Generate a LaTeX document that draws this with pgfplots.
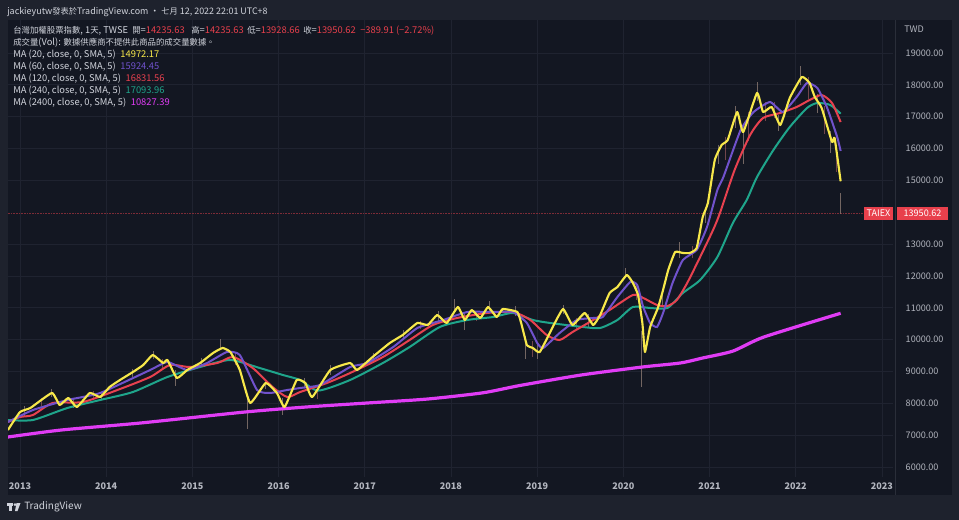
\documentclass[border=0pt]{standalone}
\usepackage{fontspec}
\setmainfont{Noto Sans CJK TC}
\usepackage{pgfplots}
\pgfplotsset{compat=1.18}

\definecolor{outerbg}{HTML}{1E222D}
\definecolor{panelbg}{HTML}{131722}
\definecolor{gridc}{HTML}{1F2330}
\definecolor{sepc}{HTML}{2A2E39}
\definecolor{txt}{HTML}{B2B5BE}
\definecolor{hdr}{HTML}{D1D4DC}
\definecolor{ma20}{HTML}{F7E84A}
\definecolor{ma60}{HTML}{7052CC}
\definecolor{ma120}{HTML}{E8414F}
\definecolor{ma240}{HTML}{1FA58B}
\definecolor{ma2400}{HTML}{E03CF5}
\definecolor{down}{HTML}{E8404C}
\definecolor{wick}{HTML}{8C7A72}
\definecolor{wickr}{HTML}{9A5A5E}

\newcommand\hfont{\fontsize{7}{8}\selectfont}
\newcommand\tfont{\fontsize{6.8}{8}\selectfont}
\newcommand\cj[1]{{\fontsize{6.3}{8}\selectfont #1}}
\newcommand\cjh[1]{{\fontsize{6.2}{8}\selectfont #1}}

\begin{document}
\begin{tikzpicture}[x=0.75pt,y=-0.75pt]
\useasboundingbox (0,0) rectangle (959,520);
\fill[outerbg] (0,0) rectangle (959,520);
\fill[panelbg] (8,20) rectangle (952,495);

\begin{axis}[
    at={(6pt,-15pt)}, anchor=north west,
    scale only axis, width=663.75pt, height=342.75pt,
    xmin=2012.8608, xmax=2023.1276,
    ymin=5686, ymax=20036,
    axis line style={draw=none},
    major tick length=0pt,
    xtick={2013,2014,...,2023},
    ytick={6000,7000,8000,9000,10000,11000,12000,13000,15000,16000,17000,18000,19000},
    scaled y ticks=false, scaled x ticks=false,
    grid=major,
    major grid style={gridc, line width=0.6pt},
    yticklabel pos=right,
    /pgf/number format/assume math mode=true,
    yticklabel style={font=\tfont, text=txt, anchor=west, xshift=6pt,
        /pgf/number format/fixed, /pgf/number format/fixed zerofill,
        /pgf/number format/precision=2, /pgf/number format/1000 sep={}},
    xticklabel style={font=\tfont\bfseries, text=txt, yshift=-1pt,
        /pgf/number format/1000 sep={}},
    clip=true,
]
% last price line
\addplot[down!50!panelbg, line width=0.7pt, dash pattern=on 1.2pt off 0.8pt]
    coordinates {(2012.86,13950.62) (2023.13,13950.62)};

% candle wicks (faint)
\addplot[draw=none, mark=none,
    error bars/.cd, y dir=both, y explicit, error mark=none,
    error bar style={draw=wick, opacity=0.8, line width=0.7pt}]
coordinates {
(2013.05,7750) +- (0,150)
(2013.37,8330) +- (0,120)
(2013.62,8000) +- (0,150)
(2013.95,8250) +- (0,120)
(2014.30,8950) +- (0,120)
(2014.55,9520) +- (0,120)
(2014.80,8800) +- (0,250)
(2015.10,9300) +- (0,120)
(2015.33,9850) +- (0,170)
(2015.64,7750) +- (0,550)
(2015.85,8600) +- (0,150)
(2016.05,7900) +- (0,270)
(2016.30,8650) +- (0,150)
(2016.60,9050) +- (0,150)
(2017.10,9450) +- (0,120)
(2017.45,10150) +- (0,150)
(2017.85,10750) +- (0,150)
(2018.04,11100) +- (0,170)
(2018.16,10550) +- (0,250)
(2018.45,11050) +- (0,150)
(2018.75,10900) +- (0,150)
(2018.86,9750) +- (0,350)
(2019.00,9650) +- (0,250)
(2019.30,10950) +- (0,150)
(2019.60,10600) +- (0,200)
(2020.02,12100) +- (0,150)
(2020.21,9400) +- (0,880)
(2020.45,11300) +- (0,200)
(2020.65,12800) +- (0,250)
(2020.95,13900) +- (0,250)
(2021.10,15800) +- (0,300)
(2021.30,17000) +- (0,350)
(2021.39,16100) +- (0,600)
(2021.55,17800) +- (0,300)
(2021.80,16800) +- (0,250)
(2022.05,18300) +- (0,300)
(2022.25,17400) +- (0,300)
(2022.40,16200) +- (0,350)
(2022.52,14270) +- (0,330)
};
\addplot[draw=none, mark=none,
    error bars/.cd, y dir=both, y explicit, error mark=none,
    error bar style={draw=wickr, opacity=0.7, line width=0.7pt}]
coordinates {
(2013.25,8050) +- (0,120)
(2013.85,8250) +- (0,130)
(2014.65,9250) +- (0,150)
(2015.50,9400) +- (0,200)
(2016.45,8300) +- (0,150)
(2017.65,10450) +- (0,130)
(2018.30,10750) +- (0,150)
(2018.95,9700) +- (0,250)
(2019.45,10500) +- (0,180)
(2020.15,11500) +- (0,250)
(2020.80,12750) +- (0,200)
(2021.18,16000) +- (0,350)
(2021.45,16700) +- (0,450)
(2021.65,17150) +- (0,300)
(2021.75,17200) +- (0,250)
(2022.15,17900) +- (0,350)
(2022.33,16900) +- (0,450)
(2022.47,15700) +- (0,450)
};

% MA 2400
\addplot[ma2400, line width=2.4pt, smooth, tension=0.4] table {
t v
2012.86 6942
2013.48 7162
2014.40 7382
2015.61 7727
2016.32 7884
2017.03 8010
2017.73 8135
2018.37 8330
2018.80 8560
2019.51 8889
2020.22 9140
2020.66 9266
2020.92 9423
2021.27 9640
2021.63 10082
2022.52 10827
};

% MA 240
\addplot[ma240, line width=1.5pt, smooth, tension=0.4] table {
t v
2012.86 7476
2013.15 7476
2013.55 7853
2013.93 8104
2014.31 8355
2014.71 8826
2015.09 9140
2015.44 9360
2015.78 9109
2016.05 8889
2016.25 8732
2016.46 8400
2016.83 8732
2017.21 9266
2017.52 9768
2017.87 10396
2018.19 10616
2018.49 10710
2018.72 10836
2018.95 10616
2019.15 10522
2019.53 10396
2019.73 10365
2019.93 10616
2020.11 11024
2020.31 10993
2020.51 10993
2020.69 11464
2020.89 11872
2021.09 12594
2021.27 13662
2021.43 14384
2021.55 15106
2021.74 15954
2021.93 16676
2022.13 17273
2022.25 17430
2022.40 17367
2022.52 17094
};

% MA 120
\addplot[ma120, line width=1.5pt, smooth, tension=0.4] table {
t v
2012.86 7413
2013.00 7570
2013.15 7633
2013.38 8010
2013.73 8041
2014.13 8418
2014.51 8826
2014.74 9203
2014.97 9140
2015.29 9266
2015.47 9454
2015.70 9109
2015.93 8512
2016.10 8198
2016.25 8355
2016.56 8638
2016.83 8952
2017.21 9454
2017.52 9988
2017.79 10459
2018.07 10679
2018.42 10836
2018.72 10867
2018.92 10616
2019.11 10145
2019.26 9988
2019.41 10239
2019.61 10553
2019.84 10930
2020.11 11401
2020.23 11307
2020.39 11087
2020.51 11055
2020.62 11244
2020.74 11778
2020.89 12594
2021.04 13442
2021.12 13976
2021.29 15326
2021.47 16425
2021.62 16959
2021.82 17116
2022.01 17304
2022.16 17524
2022.30 17681
2022.42 17430
2022.52 16832
};

% MA 60
\addplot[ma60, line width=1.5pt, smooth, tension=0.3] table {
t v
2012.86 7413
2013.15 7790
2013.55 8104
2013.93 8324
2014.51 9046
2014.71 9297
2014.94 9046
2015.17 9266
2015.40 9611
2015.55 9517
2015.75 8418
2015.90 8324
2016.10 8418
2016.25 8481
2016.48 8575
2016.83 9140
2017.03 9266
2017.33 9768
2017.61 10365
2017.91 10616
2018.19 10867
2018.49 10867
2018.72 10867
2018.88 10522
2019.00 9894
2019.07 9737
2019.26 10208
2019.46 10616
2019.65 10679
2019.76 10710
2019.93 11338
2020.08 11809
2020.16 11715
2020.23 11024
2020.31 10522
2020.39 10396
2020.46 10836
2020.57 11778
2020.69 12500
2020.85 12814
2020.97 13536
2021.09 14698
2021.16 15106
2021.36 16582
2021.51 17147
2021.70 17461
2021.85 17147
2022.01 17618
2022.13 18058
2022.25 17901
2022.36 17304
2022.48 16362
2022.52 15924
};

% MA 20
\addplot[ma20, line width=1.6pt, line join=round, smooth, tension=0.25] table {
t v
2012.86 7162
2013.00 7727
2013.12 7853
2013.37 8324
2013.46 7947
2013.56 8167
2013.66 7884
2013.81 8324
2013.93 8198
2014.04 8512
2014.16 8732
2014.31 8983
2014.43 9203
2014.54 9517
2014.66 9266
2014.71 9360
2014.82 8795
2014.94 9046
2015.09 9266
2015.24 9580
2015.35 9737
2015.44 9611
2015.55 9046
2015.67 8010
2015.85 8638
2015.98 8324
2016.07 7884
2016.21 8732
2016.31 8638
2016.39 8198
2016.60 9046
2016.83 9266
2016.91 9046
2017.09 9454
2017.29 9894
2017.44 10145
2017.61 10522
2017.73 10459
2017.84 10773
2017.95 10522
2018.08 11024
2018.16 10616
2018.24 10930
2018.34 10679
2018.43 11024
2018.53 10710
2018.60 10961
2018.77 10867
2018.82 10459
2018.88 9831
2018.95 9737
2019.03 9611
2019.18 10396
2019.30 10961
2019.41 10459
2019.55 10836
2019.65 10459
2019.73 10773
2019.84 11464
2019.93 11652
2020.04 12029
2020.11 11778
2020.17 11401
2020.22 10522
2020.25 9611
2020.31 10396
2020.40 10993
2020.46 11558
2020.52 12186
2020.60 12751
2020.69 12720
2020.77 12720
2020.85 12877
2020.92 13850
2020.98 14290
2021.06 15640
2021.14 16111
2021.21 16268
2021.32 17147
2021.39 16519
2021.55 17744
2021.62 17147
2021.72 17304
2021.82 16739
2021.93 17587
2022.07 18246
2022.16 18058
2022.22 17618
2022.30 17273
2022.42 16205
2022.45 16331
2022.52 14972
};
\end{axis}

% panel separators
\draw[sepc, line width=0.6pt] (895,20) -- (895,495);

% header
\node[anchor=base west, inner sep=0pt, font=\fontsize{6.7}{9}\selectfont, text=hdr] at (7,15)
    {jackieyutw\cjh{發表於}TradingView.com\ ·\ \cjh{七月} 12, 2022 22:01 UTC+8};

\begin{scope}[every node/.style={anchor=base west, inner sep=0pt, font=\hfont, text=hdr}]
\node at (13,34) {\cj{台灣加權股票指數}, 1\cj{天}, TWSE};
\node at (132,34) {\cj{開}=\textcolor{down}{14235.63}};
\node at (191,34) {\cj{高}=\textcolor{down}{14235.63}};
\node at (247,34) {\cj{低}=\textcolor{down}{13928.66}};
\node at (303,34) {\cj{收}=\textcolor{down}{13950.62}};
\node at (360,34) {\textcolor{down}{−389.91 (−2.72\%)}};
\node at (13,46) {\cj{成交量}(Vol): \cj{數據供應商不提供此商品的成交量數據。}};
\node at (13,58) {MA (20, close, 0, SMA, 5)\enspace\textcolor{ma20}{14972.17}};
\node at (13,70) {MA (60, close, 0, SMA, 5)\enspace\textcolor{ma60}{15924.45}};
\node at (13,82) {MA (120, close, 0, SMA, 5)\enspace\textcolor{ma120}{16831.56}};
\node at (13,94) {MA (240, close, 0, SMA, 5)\enspace\textcolor{ma240}{17093.96}};
\node at (13,106) {MA (2400, close, 0, SMA, 5)\enspace\textcolor{ma2400}{10827.39}};
\end{scope}

% price scale extras
\node[anchor=west, inner sep=0pt, font=\tfont, text=txt] at (904,29) {TWD};
\fill[down] (864,207) rectangle (893,220);
\fill[down] (897,207) rectangle (948,220);
\node[font=\tfont, text=white, inner sep=0pt] at (878.5,213.5) {TAIEX};
\node[font=\tfont, text=white, inner sep=0pt] at (922.5,213.5) {13950.62};

% footer logo
\fill[hdr] (7,503) rectangle (13,505.5);
\fill[hdr] (9,503) rectangle (11.5,511);
\fill[hdr] (15,504.5) circle (1.5);
\fill[hdr] (16.5,503) -- (20.5,503) -- (17.5,511) -- (15,511) -- cycle;
\node[anchor=west, inner sep=0pt, font=\fontsize{7.5}{9}\selectfont, text=hdr] at (24,507) {TradingView};
\end{tikzpicture}
\end{document}
